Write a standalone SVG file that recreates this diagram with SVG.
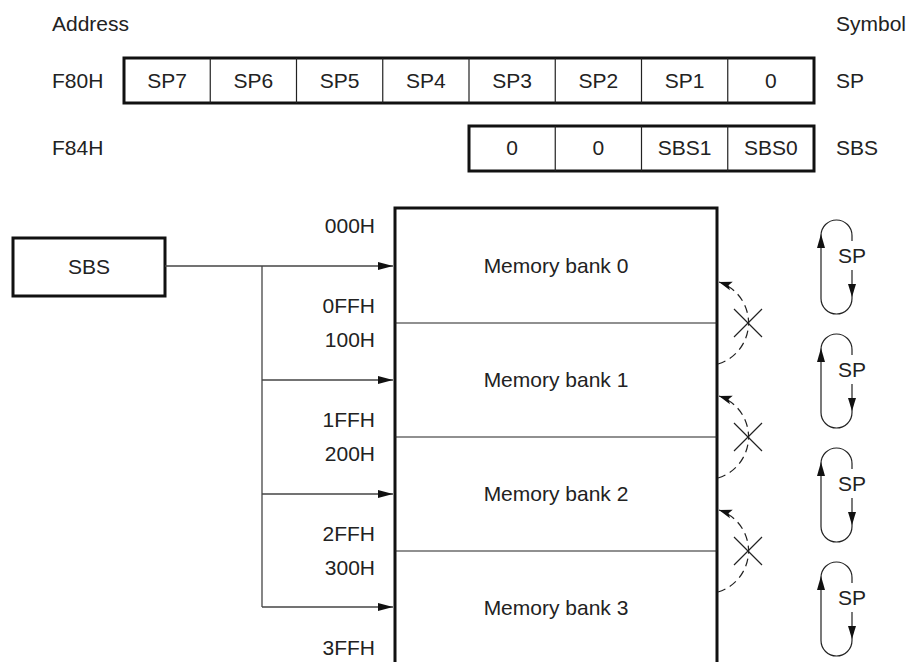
<svg xmlns="http://www.w3.org/2000/svg" width="909" height="662" viewBox="0 0 909 662">
<style>
text{font-family:"Liberation Sans",Arial,sans-serif;font-size:21px;fill:#222}
.c{text-anchor:middle}
.r{text-anchor:end}
.thick{fill:none;stroke:#111;stroke-width:3}
.thin{fill:none;stroke:#222;stroke-width:1.2}
.conn{fill:none;stroke:#444;stroke-width:1.3}
.dash{fill:none;stroke:#222;stroke-width:1.2;stroke-dasharray:8 5}
.ah{fill:#111;stroke:none}
</style>
<defs>
<marker id="arr" markerWidth="16" markerHeight="10" refX="15" refY="5" orient="auto" markerUnits="userSpaceOnUse">
<path d="M0,1 L15,5 L0,9 Z" fill="#111"/>
</marker>
<marker id="arr2" markerWidth="14" markerHeight="10" refX="13" refY="5" orient="auto" markerUnits="userSpaceOnUse">
<path d="M0,0.5 L13,5 L0,9.5 L3,5 Z" fill="#111"/>
</marker>
</defs>

<g id="headers">
<text x="52" y="31">Address</text>
<text x="836" y="31">Symbol</text>
</g>

<g id="reg-sp">
<text x="52" y="88">F80H</text>
<rect x="124" y="58" width="690" height="45" class="thick"/>
<path class="thin" d="M210.25,58V103M296.5,58V103M382.75,58V103M469,58V103M555.25,58V103M641.5,58V103M727.75,58V103"/>
<text class="c" x="167.1" y="88">SP7</text>
<text class="c" x="253.4" y="88">SP6</text>
<text class="c" x="339.6" y="88">SP5</text>
<text class="c" x="425.9" y="88">SP4</text>
<text class="c" x="512.1" y="88">SP3</text>
<text class="c" x="598.4" y="88">SP2</text>
<text class="c" x="684.6" y="88">SP1</text>
<text class="c" x="770.9" y="88">0</text>
<text x="836" y="88">SP</text>
</g>

<g id="reg-sbs">
<text x="52" y="155">F84H</text>
<rect x="469" y="126" width="345" height="45" class="thick"/>
<path class="thin" d="M555.25,126V171M641.5,126V171M727.75,126V171"/>
<text class="c" x="512.1" y="155">0</text>
<text class="c" x="598.4" y="155">0</text>
<text class="c" x="684.6" y="155">SBS1</text>
<text class="c" x="770.9" y="155">SBS0</text>
<text x="836" y="155">SBS</text>
</g>

<g id="sbs-box">
<rect x="13" y="238" width="152" height="58" class="thick"/>
<text class="c" x="89" y="274">SBS</text>
</g>

<g id="memory">
<path class="thick" d="M395,664V208H717V664"/>
<path class="thin" d="M395,323H717M395,437H717M395,551H717" stroke-width="1.5"/>
<text class="c" x="556" y="273">Memory bank 0</text>
<text class="c" x="556" y="387">Memory bank 1</text>
<text class="c" x="556" y="501">Memory bank 2</text>
<text class="c" x="556" y="615">Memory bank 3</text>
</g>

<g id="addresses">
<text class="r" x="375" y="233">000H</text>
<text class="r" x="375" y="313">0FFH</text>
<text class="r" x="375" y="347">100H</text>
<text class="r" x="375" y="427">1FFH</text>
<text class="r" x="375" y="461">200H</text>
<text class="r" x="375" y="541">2FFH</text>
<text class="r" x="375" y="575">300H</text>
<text class="r" x="375" y="655">3FFH</text>
</g>

<g id="connectors">
<path class="conn" d="M165,266H393" marker-end="url(#arr)"/>
<path class="conn" d="M262,266V607"/>
<path class="conn" d="M262,380H393" marker-end="url(#arr)"/>
<path class="conn" d="M262,494H393" marker-end="url(#arr)"/>
<path class="conn" d="M262,607H393" marker-end="url(#arr)"/>
</g>

<g id="blocked-transitions">
<path class="dash" d="M718,364A43,43 0 0 0 719,282" marker-end="url(#arr2)"/>
<path class="thin" d="M734,309L762,337M734,337L762,309"/>
<path class="dash" d="M718,478A43,43 0 0 0 719,396" marker-end="url(#arr2)"/>
<path class="thin" d="M734,423L762,451M734,451L762,423"/>
<path class="dash" d="M718,592A43,43 0 0 0 719,510" marker-end="url(#arr2)"/>
<path class="thin" d="M734,537L762,565M734,565L762,537"/>
</g>

<g id="sp-loops">
<g id="loop0">
<path class="thin" d="M852,270V298.5A15.5,15.5 0 0 1 821,298.5V235.5A15.5,15.5 0 0 1 852,235.5V241"/>
<path class="ah" d="M821,234L817,248L825,248Z"/>
<path class="ah" d="M852,297L848,284L856,284Z"/>
<text class="c" x="852" y="263">SP</text>
</g>
<g id="loop1">
<path class="thin" d="M852,384V412.5A15.5,15.5 0 0 1 821,412.5V349.5A15.5,15.5 0 0 1 852,349.5V355"/>
<path class="ah" d="M821,348L817,362L825,362Z"/>
<path class="ah" d="M852,411L848,398L856,398Z"/>
<text class="c" x="852" y="377">SP</text>
</g>
<g id="loop2">
<path class="thin" d="M852,498V526.5A15.5,15.5 0 0 1 821,526.5V463.5A15.5,15.5 0 0 1 852,463.5V469"/>
<path class="ah" d="M821,462L817,476L825,476Z"/>
<path class="ah" d="M852,525L848,512L856,512Z"/>
<text class="c" x="852" y="491">SP</text>
</g>
<g id="loop3">
<path class="thin" d="M852,612V640.5A15.5,15.5 0 0 1 821,640.5V577.5A15.5,15.5 0 0 1 852,577.5V583"/>
<path class="ah" d="M821,576L817,590L825,590Z"/>
<path class="ah" d="M852,639L848,626L856,626Z"/>
<text class="c" x="852" y="605">SP</text>
</g>
</g>
</svg>
